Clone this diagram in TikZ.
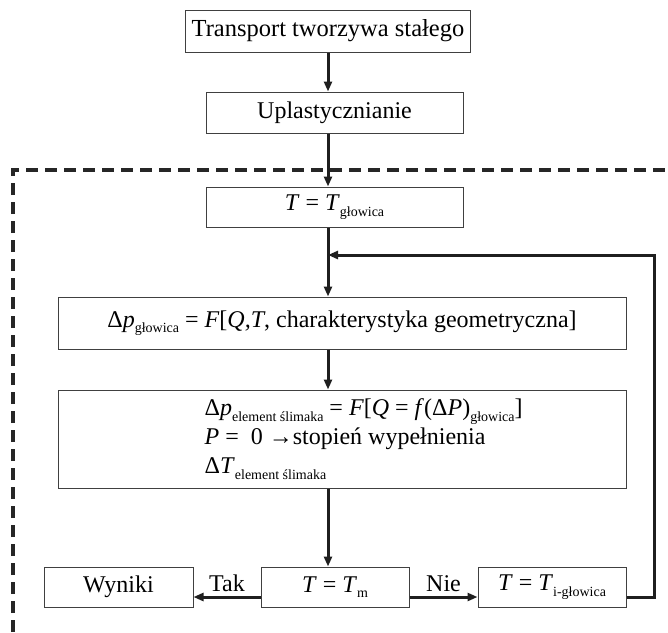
\documentclass[tikz,border=0pt]{standalone}
\usepackage{fontspec}
\setmainfont{Liberation Serif}
\usetikzlibrary{arrows.meta}
\newcommand{\indeks}[1]{\raisebox{-5.5pt}{\fontsize{14}{14}\selectfont #1}}
\begin{document}
\begin{tikzpicture}[x=1pt,y=-1pt,
        box/.style={draw=black!75,line width=1pt,inner sep=0pt,font=\fontsize{24}{28}\selectfont},
        flow/.style={line width=3pt,draw=black!88,-{Triangle[length=10pt,width=8pt]}},
        etykieta/.style={font=\fontsize{24}{28}\selectfont,inner sep=1pt}]
    \useasboundingbox (0,0) rectangle (668,632);
    % obszar obliczen
    \draw[line width=3.2pt,black!85,dash pattern=on 12pt off 7pt] (13,632) -- (13,170) -- (668,170);
    \node[box,minimum width=285pt,minimum height=42pt,font=\fontsize{24.5}{28}\selectfont] (transport) at (328,31) {Transport tworzywa stałego};
    \node[box,minimum width=257pt,minimum height=41pt] (uplast) at (334.5,112.5) {Uplastycznianie};
    \node[box,minimum width=257pt,minimum height=40pt] (tglow) at (334.5,207) {\textit{T} = \textit{T}\indeks{głowica}};
    \node[box,minimum width=568pt,minimum height=52pt] (dpglow) at (342,323)
        {Δ\textit{p}\indeks{głowica} = \textit{F}[\textit{Q,T}, charakterystyka geometryczna]};
    \node[box,minimum width=568pt,minimum height=98pt] (element) at (342,439) {};
    \node[etykieta,anchor=west,align=left,font=\fontsize{24}{29}\selectfont] (opis) at ([xshift=146pt]element.west)
        {Δ\textit{p}\indeks{element ślimaka} = \textit{F}[\textit{Q} = \textit{f}(Δ\textit{P})\indeks{głowica}]\\
         \textit{P} =\ \ 0 →stopień wypełnienia\\
         Δ\textit{T}\indeks{element ślimaka}};
    \node[box,minimum width=148pt,minimum height=40pt] (tm) at (335,587) {\textit{T} = \textit{T}\indeks{m}};
    \node[box,minimum width=149pt,minimum height=40pt] (wyniki) at (118.5,587) {Wyniki};
    \node[box,minimum width=148pt,minimum height=40pt] (tig) at (552,587) {\textit{T} = \textit{T}\indeks{i-głowica}};
    \coordinate (naroznik) at (654,255);
    % przeplyw
    \draw[flow] (transport) -- (transport.south |- uplast.north);
    \draw[flow] (transport.south |- uplast.south) -- (transport.south |- tglow.north);
    \draw[flow] (transport.south |- tglow.south) -- (transport.south |- dpglow.north);
    \draw[flow] (transport.south |- dpglow.south) -- (transport.south |- element.north);
    \draw[flow] (transport.south |- element.south) -- (transport.south |- tm.north);
    \draw[flow] ([yshift=-10pt]tm.west) -- ([yshift=-10pt]wyniki.east) node[etykieta,midway,above=3pt] {Tak};
    \draw[flow] ([yshift=-10pt]tm.east) -- ([yshift=-10pt]tig.west) node[etykieta,midway,above=3pt] {Nie};
    \draw[flow] ([yshift=-10pt]tig.east) -| (naroznik) -- (naroznik -| transport.south);
\end{tikzpicture}
\end{document}
